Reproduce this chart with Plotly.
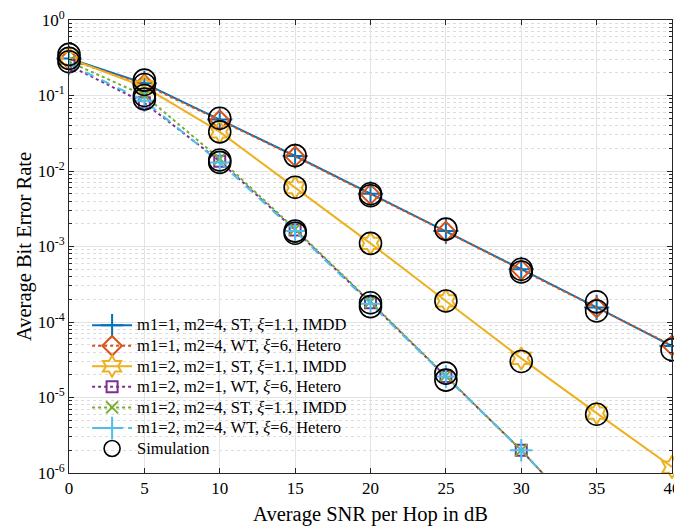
import plotly.graph_objects as go

snr = [0, 5, 10, 15, 20, 25, 30, 35, 40]

ber_m14_st = [0.31, 0.145, 0.048, 0.0158, 0.0050, 1.6e-3, 5.0e-4, 1.56e-4, 4.8e-5]
ber_m14_wt = [0.30, 0.140, 0.047, 0.0156, 0.0049, 1.58e-3, 4.9e-4, 1.55e-4, 4.9e-5]
ber_m21_st = [0.31, 0.13, 0.033, 0.0060, 1.1e-3, 1.9e-4, 3.3e-5, 6.2e-6, 1.2e-6]
ber_m21_wt = [0.25, 0.080, 0.0135, 1.65e-3, 1.8e-4, 1.9e-5, 2.0e-6, 1.7e-7, 1.4e-8]
ber_m24_st = [0.28, 0.100, 0.0145, 1.70e-3, 1.85e-4, 1.95e-5, 2.0e-6, 1.7e-7, 1.4e-8]
ber_m24_wt = [0.26, 0.085, 0.0130, 1.60e-3, 1.75e-4, 1.9e-5, 2.0e-6, 1.7e-7, 1.4e-8]

sim_x = [0, 0, 0, 5, 5, 5, 5, 10, 10, 10, 10, 15, 15, 15, 15,
         20, 20, 20, 20, 20, 25, 25, 25, 25, 30, 30, 30, 35, 35, 35, 40]
sim_y = [0.35, 0.31, 0.28, 0.16, 0.14, 0.10, 0.09, 0.050, 0.033, 0.014, 0.013,
         0.016, 0.0061, 0.0016, 0.0015,
         0.0050, 0.0047, 0.0011, 1.8e-4, 1.6e-4,
         1.7e-3, 1.9e-4, 2.1e-5, 1.7e-5,
         5.0e-4, 4.6e-4, 3.0e-5,
         1.85e-4, 1.4e-4, 6.0e-6,
         4.3e-5]

names = ["m1=1, m2=4, ST, ξ=1.1, IMDD",
         "m1=1, m2=4, WT, ξ=6, Hetero",
         "m1=2, m2=1, ST, ξ=1.1, IMDD",
         "m1=2, m2=1, WT, ξ=6, Hetero",
         "m1=2, m2=4, ST, ξ=1.1, IMDD",
         "m1=2, m2=4, WT, ξ=6, Hetero",
         "Simulation"]

SERIF = "Liberation Serif, Times New Roman, Times, serif"


def leg(s):
    return ('<span style="font-family:Liberation Serif;font-size:16.5px">'
            + s.replace("ξ", "<i>ξ</i>") + "</span>")


fig = go.Figure()

series = [
    (ber_m14_st, "#0072BD", "solid", "cross-thin-open", 18, False),
    (ber_m14_wt, "#D95319", "dot", "diamond-open", 15, False),
    (ber_m21_st, "#EDB120", "solid", "hexagram-open", 17, False),
    (ber_m21_wt, "#7E2F8E", "dot", "square-open", 11, True),
    (ber_m24_st, "#77AC30", "dot", "x-thin-open", 12, True),
    (ber_m24_wt, "#4DBEEE", "dash", "cross-thin-open", 16, True),
]

for i, (vals, col, dash, sym, sz, clip) in enumerate(series):
    fig.add_trace(go.Scatter(
        x=snr, y=vals, name=leg(names[i]), mode="lines+markers",
        line=dict(color=col, width=2, dash=dash),
        marker=dict(symbol=sym, size=sz, color=col, line=dict(color=col, width=2)),
        cliponaxis=clip,
    ))

fig.add_trace(go.Scatter(
    x=sim_x, y=sim_y, name=leg(names[6]), mode="markers",
    marker=dict(symbol="circle-open", size=22, color="black", line=dict(color="black", width=1.6)),
    cliponaxis=False,
))

yt = [1e-6, 1e-5, 1e-4, 1e-3, 1e-2, 1e-1, 1]
ytxt = ["10<sup>-6</sup>", "10<sup>-5</sup>", "10<sup>-4</sup>", "10<sup>-3</sup>",
        "10<sup>-2</sup>", "10<sup>-1</sup>", "10<sup>0</sup>"]
minor_vals = [m * 10 ** e for e in range(-6, 0) for m in range(2, 10)]

axcol = "#262626"
fig.update_layout(
    template="none",
    width=674, height=523,
    margin=dict(l=61, r=10, t=12, b=58, autoexpand=False),
    paper_bgcolor="white", plot_bgcolor="white",
    font=dict(family=SERIF, size=16, color="black"),
    showlegend=True,
    legend=dict(x=0.03, y=0.36, xanchor="left", yanchor="top",
                bgcolor="rgba(0,0,0,0)", borderwidth=0,
                font=dict(family=SERIF, size=13.5, color="black"),
                itemwidth=40, tracegroupgap=0),
    xaxis=dict(range=[0, 40], tickvals=[0, 5, 10, 15, 20, 25, 30, 35, 40],
               automargin=False, ticklabeloverflow="allow",
               showline=True, linecolor=axcol, linewidth=1, mirror="ticks",
               ticks="inside", ticklen=5, tickcolor=axcol,
               showgrid=True, gridcolor="#e3e3e3", gridwidth=1, zeroline=False,
               title=dict(text="Average SNR per Hop in dB", font=dict(family=SERIF, size=20.5), standoff=9),
               tickfont=dict(family=SERIF, size=17)),
    yaxis=dict(type="log", range=[-6, 0], tickvals=yt, ticktext=ytxt,
               automargin=False, ticklabeloverflow="allow",
               showline=True, linecolor=axcol, linewidth=1, mirror="ticks",
               ticks="inside", ticklen=5, tickcolor=axcol,
               showgrid=True, gridcolor="#e3e3e3", gridwidth=1, zeroline=False,
               minor=dict(tickvals=minor_vals, ticks="inside", ticklen=3, tickcolor=axcol,
                          showgrid=True, gridcolor="#dcdcdc", griddash="dot", gridwidth=1),
               title=dict(text="Average Bit Error Rate", font=dict(family=SERIF, size=20.5), standoff=0),
               tickfont=dict(family=SERIF, size=17)),
)

fig.write_html("out.html")
